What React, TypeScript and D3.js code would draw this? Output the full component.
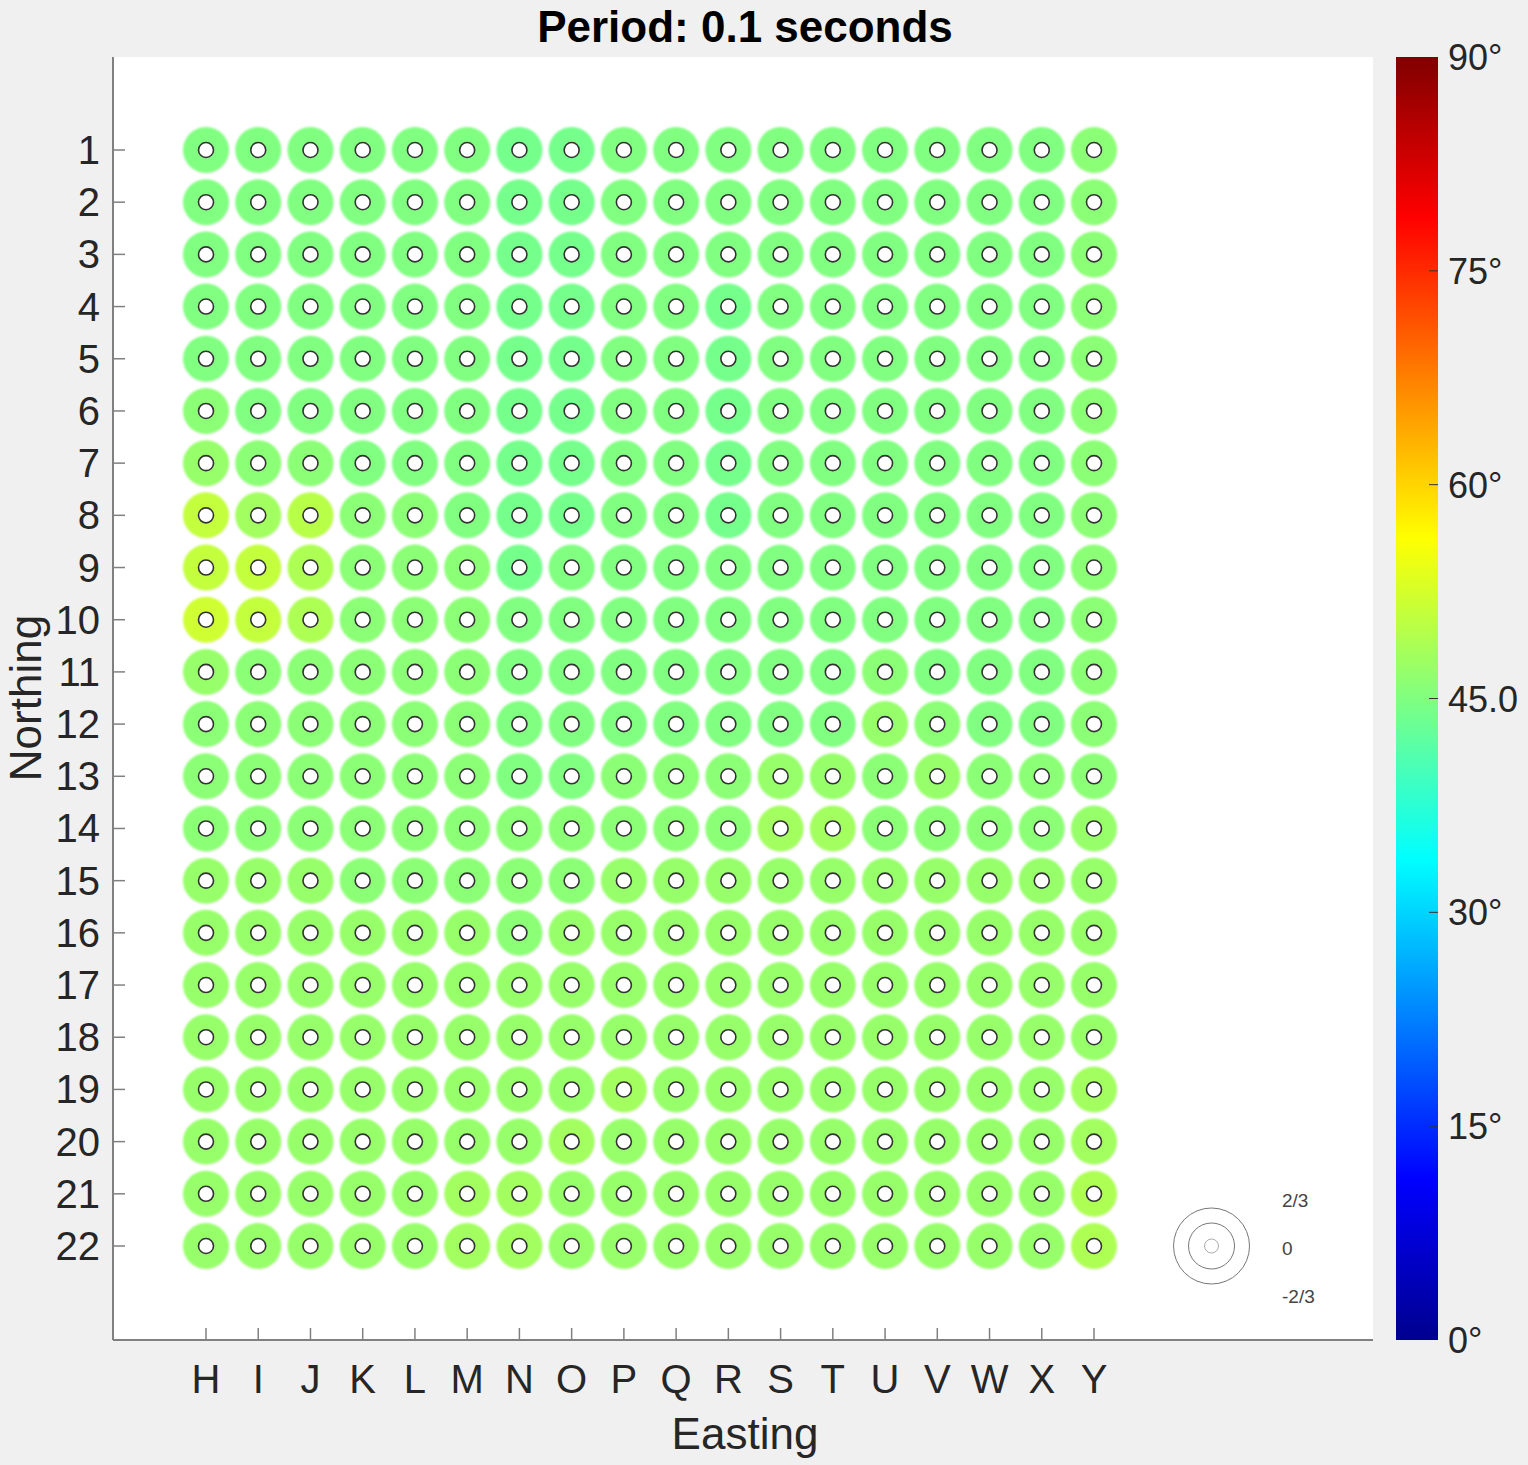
import React, { useEffect, useRef } from "react";
import * as d3 from "d3";

const EASTINGS = ["H", "I", "J", "K", "L", "M", "N", "O", "P", "Q", "R", "S", "T", "U", "V", "W", "X", "Y"];
const NORTHINGS = [1, 2, 3, 4, 5, 6, 7, 8, 9, 10, 11, 12, 13, 14, 15, 16, 17, 18, 19, 20, 21, 22];

// phase angle (degrees) per station, one row per northing, columns H..Y
const PHASE_ROWS: number[][] = [
  [45, 45, 45, 45, 45, 45, 44, 44, 45, 45, 45, 45, 45, 45, 45, 45, 45, 46],
  [45, 45, 45, 45, 45, 45, 44, 44, 45, 45, 45, 45, 45, 45, 45, 45, 45, 46],
  [45, 45, 45, 45, 45, 45, 44, 44, 45, 45, 45, 45, 45, 45, 45, 45, 45, 46],
  [45, 45, 45, 45, 45, 45, 44, 44, 45, 45, 44, 45, 45, 45, 45, 45, 45, 46],
  [45, 45, 45, 45, 45, 45, 44, 44, 45, 45, 44, 45, 45, 45, 45, 45, 45, 46],
  [46, 45, 45, 45, 45, 45, 44, 44, 45, 45, 44, 45, 45, 45, 45, 45, 45, 46],
  [47, 46, 46, 45, 45, 45, 44, 44, 45, 45, 44, 45, 45, 45, 45, 45, 45, 46],
  [51, 48, 50, 46, 46, 45, 44, 44, 45, 45, 44, 45, 45, 45, 45, 45, 45, 46],
  [51, 51, 49, 46, 46, 46, 44, 45, 45, 45, 45, 45, 45, 45, 45, 45, 45, 46],
  [52, 51, 49, 46, 46, 46, 45, 45, 45, 45, 45, 45, 45, 45, 45, 45, 45, 46],
  [47, 46, 46, 46, 46, 46, 45, 45, 45, 45, 45, 45, 45, 46, 45, 45, 45, 46],
  [46, 46, 46, 46, 46, 46, 45, 45, 45, 45, 45, 45, 45, 47, 46, 45, 45, 46],
  [46, 46, 46, 46, 46, 46, 45, 45, 46, 46, 46, 47, 47, 46, 47, 46, 46, 46],
  [46, 46, 46, 46, 46, 46, 46, 46, 46, 46, 46, 48, 48, 46, 46, 46, 46, 47],
  [47, 47, 47, 46, 46, 46, 46, 46, 47, 47, 47, 47, 47, 47, 47, 47, 47, 47],
  [47, 47, 47, 47, 47, 47, 46, 47, 47, 47, 47, 47, 47, 47, 47, 47, 47, 47],
  [47, 47, 47, 47, 47, 47, 47, 47, 47, 47, 47, 47, 47, 47, 47, 47, 47, 47],
  [47, 47, 47, 47, 47, 47, 47, 47, 47, 47, 47, 47, 47, 47, 47, 47, 47, 47],
  [47, 47, 47, 47, 47, 47, 47, 47, 48, 47, 47, 47, 47, 47, 47, 47, 47, 48],
  [47, 47, 47, 47, 47, 47, 47, 48, 47, 47, 47, 47, 47, 47, 47, 47, 47, 48],
  [47, 47, 47, 47, 47, 48, 48, 47, 47, 47, 47, 47, 47, 47, 47, 47, 47, 49],
  [47, 47, 47, 47, 47, 48, 48, 47, 47, 47, 47, 47, 47, 47, 47, 47, 47, 49],
];

const COLORBAR_TICKS = [0, 15, 30, 45, 60, 75, 90];
const COLORBAR_LABELS = ["0°", "15°", "30°", "45.0", "60°", "75°", "90°"];
const LEGEND_VALUES = [2 / 3, 0, -2 / 3];
const LEGEND_LABELS = ["2/3", "0", "-2/3"];

const FONT = "'Liberation Sans', Arial, Helvetica, sans-serif";

// MATLAB-style jet colormap on [0,1]
const jet = d3
  .scaleLinear<string>()
  .domain([0, 0.125, 0.375, 0.625, 0.875, 1])
  .range(["#00008f", "#0000ff", "#00ffff", "#ffff00", "#ff0000", "#800000"])
  .clamp(true);

const App: React.FC = () => {
  const ref = useRef<SVGSVGElement>(null);

  useEffect(() => {
    if (!ref.current) return;
    const svg = d3.select(ref.current);
    svg.selectAll("*").remove();

    const W = 1528;
    const H = 1465;
    const box = { left: 113, right: 1373, top: 57, bottom: 1340 };

    // data units: column index / northing
    const x = d3.scaleLinear().domain([0, EASTINGS.length - 1]).range([206, 1094]);
    const y = d3.scaleLinear().domain([1, 22]).range([150, 1246]);
    const phaseColor = (deg: number) => jet(deg / 90);
    const radius = d3.scaleLinear().domain([-2 / 3, 0, 2 / 3]).range([7, 23, 38]);

    svg.append("rect").attr("width", W).attr("height", H).attr("fill", "#f0f0f0");

    const defs = svg.append("defs");
    defs
      .append("filter")
      .attr("id", "soft")
      .attr("x", "-20%")
      .attr("y", "-20%")
      .attr("width", "140%")
      .attr("height", "140%")
      .append("feGaussianBlur")
      .attr("stdDeviation", 0.9);

    // axes background
    svg
      .append("rect")
      .attr("x", box.left)
      .attr("y", box.top)
      .attr("width", box.right - box.left)
      .attr("height", box.bottom - box.top)
      .attr("fill", "#ffffff");

    // stations
    const cells = PHASE_ROWS.flatMap((row, ri) =>
      row.map((v, ci) => ({ row: NORTHINGS[ri], col: ci, v }))
    );
    const g = svg.append("g");
    g.selectAll("circle.disc")
      .data(cells)
      .enter()
      .append("circle")
      .attr("class", "disc")
      .attr("cx", (d) => x(d.col))
      .attr("cy", (d) => y(d.row))
      .attr("r", radius(0))
      .attr("fill", (d) => phaseColor(d.v))
      .attr("filter", "url(#soft)");
    g.selectAll("circle.hole")
      .data(cells)
      .enter()
      .append("circle")
      .attr("class", "hole")
      .attr("cx", (d) => x(d.col))
      .attr("cy", (d) => y(d.row))
      .attr("r", 7.5)
      .attr("fill", "#ffffff")
      .attr("stroke", "#333")
      .attr("stroke-width", 1.6);

    // axis lines
    const axisColor = "#808080";
    svg
      .append("line")
      .attr("x1", box.left)
      .attr("x2", box.left)
      .attr("y1", box.top)
      .attr("y2", box.bottom)
      .attr("stroke", axisColor)
      .attr("stroke-width", 2);
    svg
      .append("line")
      .attr("x1", box.left)
      .attr("x2", box.right)
      .attr("y1", box.bottom)
      .attr("y2", box.bottom)
      .attr("stroke", axisColor)
      .attr("stroke-width", 2);

    // y ticks
    svg
      .append("g")
      .selectAll("line")
      .data(NORTHINGS)
      .enter()
      .append("line")
      .attr("x1", box.left)
      .attr("x2", box.left + 12)
      .attr("y1", (d) => y(d))
      .attr("y2", (d) => y(d))
      .attr("stroke", axisColor)
      .attr("stroke-width", 1.5);
    svg
      .append("g")
      .selectAll("text")
      .data(NORTHINGS)
      .enter()
      .append("text")
      .attr("x", 100)
      .attr("y", (d) => y(d) + 14)
      .attr("text-anchor", "end")
      .style("font-family", FONT)
      .style("font-size", "40px")
      .style("fill", "#262626")
      .text((d) => d);

    // x ticks
    svg
      .append("g")
      .selectAll("line")
      .data(EASTINGS)
      .enter()
      .append("line")
      .attr("x1", (_d, i) => x(i))
      .attr("x2", (_d, i) => x(i))
      .attr("y1", box.bottom)
      .attr("y2", box.bottom - 12)
      .attr("stroke", axisColor)
      .attr("stroke-width", 1.5);
    svg
      .append("g")
      .selectAll("text")
      .data(EASTINGS)
      .enter()
      .append("text")
      .attr("x", (_d, i) => x(i))
      .attr("y", 1393)
      .attr("text-anchor", "middle")
      .style("font-family", FONT)
      .style("font-size", "40px")
      .style("fill", "#262626")
      .text((d) => d);

    // axis titles
    svg
      .append("text")
      .attr("x", 745)
      .attr("y", 1449)
      .attr("text-anchor", "middle")
      .style("font-family", FONT)
      .style("font-size", "44px")
      .style("fill", "#262626")
      .text("Easting");
    svg
      .append("text")
      .attr("transform", "translate(41,698) rotate(-90)")
      .attr("text-anchor", "middle")
      .style("font-family", FONT)
      .style("font-size", "44px")
      .style("fill", "#262626")
      .text("Northing");

    // title
    svg
      .append("text")
      .attr("x", 745)
      .attr("y", 42)
      .attr("text-anchor", "middle")
      .style("font-family", FONT)
      .style("font-size", "44px")
      .style("font-weight", "bold")
      .style("fill", "#000")
      .text("Period: 0.1 seconds");

    // amplitude legend
    const lgx = x(19.25);
    const lgy = y(22);
    svg
      .append("g")
      .selectAll("circle")
      .data(LEGEND_VALUES)
      .enter()
      .append("circle")
      .attr("cx", lgx)
      .attr("cy", lgy)
      .attr("r", (d) => radius(d))
      .attr("fill", "none")
      .attr("stroke", (_d, i) => (i === 2 ? "#aaa" : "#777"))
      .attr("stroke-width", 1);
    svg
      .append("g")
      .selectAll("text")
      .data(LEGEND_LABELS)
      .enter()
      .append("text")
      .attr("x", 1282)
      .attr("y", (_d, i) => lgy - 46 + i * 48 + 7)
      .style("font-family", FONT)
      .style("font-size", "19px")
      .style("fill", "#444")
      .text((d) => d);

    // colorbar
    const cb = { x0: 1396, x1: 1438 };
    const cbY = d3.scaleLinear().domain([0, 90]).range([box.bottom, box.top]);
    const grad = defs
      .append("linearGradient")
      .attr("id", "jet")
      .attr("x1", 0)
      .attr("y1", 1)
      .attr("x2", 0)
      .attr("y2", 0);
    d3.range(0, 1.0001, 0.025).forEach((t) => {
      grad.append("stop").attr("offset", t).attr("stop-color", jet(t));
    });
    svg
      .append("rect")
      .attr("x", cb.x0)
      .attr("y", cbY(90))
      .attr("width", cb.x1 - cb.x0)
      .attr("height", cbY(0) - cbY(90))
      .attr("fill", "url(#jet)");
    svg
      .append("g")
      .selectAll("line")
      .data(COLORBAR_TICKS.slice(1, -1))
      .enter()
      .append("line")
      .attr("x1", cb.x1 - 9)
      .attr("x2", cb.x1)
      .attr("y1", (d) => cbY(d))
      .attr("y2", (d) => cbY(d))
      .attr("stroke", "#333")
      .attr("stroke-width", 1);
    svg
      .append("g")
      .selectAll("text")
      .data(COLORBAR_TICKS)
      .enter()
      .append("text")
      .attr("x", 1448)
      .attr("y", (d) => cbY(d) + 13)
      .style("font-family", FONT)
      .style("font-size", "36px")
      .style("fill", "#262626")
      .text((_d, i) => COLORBAR_LABELS[i]);
  }, []);

  return (
    <svg
      ref={ref}
      width={1528}
      height={1465}
      style={{ position: "absolute", left: 0, top: 0, display: "block" }}
    />
  );
};

export default App;
